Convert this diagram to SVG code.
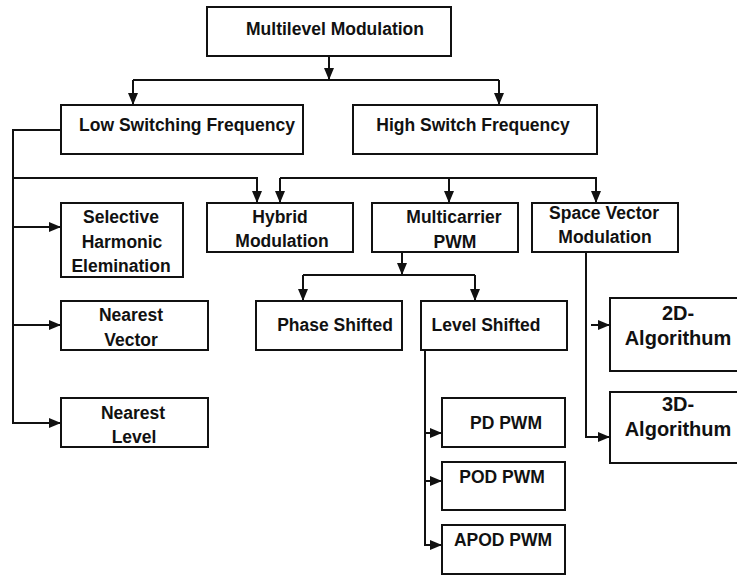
<svg xmlns="http://www.w3.org/2000/svg" width="737" height="576" viewBox="0 0 737 576">
  <style>
    .box { fill: #ffffff; stroke: #111111; stroke-width: 2; }
    .lbl { font-family: "Liberation Sans", Arial, sans-serif; font-weight: bold; font-size: 17.5px; fill: #111111; text-anchor: middle; }
    .big { font-family: "Liberation Sans", Arial, sans-serif; font-weight: bold; font-size: 20px; fill: #111111; text-anchor: middle; }
    .wire { fill: none; stroke: #111111; stroke-width: 2; }
  </style>
  <defs>
    <marker id="arrow" markerUnits="userSpaceOnUse" markerWidth="12" markerHeight="10" viewBox="0 0 12 10" refX="12" refY="5" orient="auto">
      <path d="M0,0 L12,5 L0,10 Z" fill="#111111"/>
    </marker>
  </defs>

  <rect width="737" height="576" fill="#ffffff"/>

  <g id="connectors">
    <!-- root to second level -->
    <path class="wire" d="M329,56 V80" marker-end="url(#arrow)"/>
    <path class="wire" d="M133,80 H499"/>
    <path class="wire" d="M133,80 V105" marker-end="url(#arrow)"/>
    <path class="wire" d="M499,80 V105" marker-end="url(#arrow)"/>
    <!-- low switching frequency branch -->
    <path class="wire" d="M61,130 H13 V423 H61" marker-end="url(#arrow)"/>
    <path class="wire" d="M13,227 H61" marker-end="url(#arrow)"/>
    <path class="wire" d="M13,325 H61" marker-end="url(#arrow)"/>
    <path class="wire" d="M13,178 H257 V203" marker-end="url(#arrow)"/>
    <!-- high switch frequency branch -->
    <path class="wire" d="M280,178 V203" marker-end="url(#arrow)"/>
    <path class="wire" d="M280,178 H596 V203" marker-end="url(#arrow)"/>
    <path class="wire" d="M449,178 V203" marker-end="url(#arrow)"/>
    <!-- multicarrier PWM branch -->
    <path class="wire" d="M402,252 V275" marker-end="url(#arrow)"/>
    <path class="wire" d="M303,275 H475"/>
    <path class="wire" d="M303,275 V301" marker-end="url(#arrow)"/>
    <path class="wire" d="M475,275 V301" marker-end="url(#arrow)"/>
    <!-- level shifted branch -->
    <path class="wire" d="M425,350 V545 H442" marker-end="url(#arrow)"/>
    <path class="wire" d="M425,433 H442" marker-end="url(#arrow)"/>
    <path class="wire" d="M425,481 H442" marker-end="url(#arrow)"/>
    <!-- space vector branch -->
    <path class="wire" d="M586,252 V437 H610" marker-end="url(#arrow)"/>
    <path class="wire" d="M591,325 H610" marker-end="url(#arrow)"/>
  </g>

  <g id="multilevel-modulation">
    <rect class="box" x="207" y="7" width="244" height="49"/>
    <text class="lbl" x="335" y="35">Multilevel Modulation</text>
  </g>

  <g id="low-switching">
    <rect class="box" x="61" y="105" width="242" height="49"/>
    <text class="lbl" x="187" y="131">Low Switching Frequency</text>
  </g>

  <g id="high-switch">
    <rect class="box" x="353" y="105" width="244" height="49"/>
    <text class="lbl" x="473" y="131">High Switch Frequency</text>
  </g>

  <g id="selective-harmonic">
    <rect class="box" x="61" y="203" width="122" height="74"/>
    <text class="lbl" x="121" y="223">Selective</text>
    <text class="lbl" x="122" y="248">Harmonic</text>
    <text class="lbl" x="121" y="272">Elemination</text>
  </g>

  <g id="nearest-vector">
    <rect class="box" x="61" y="301" width="147" height="49"/>
    <text class="lbl" x="131" y="321">Nearest</text>
    <text class="lbl" x="131" y="346">Vector</text>
  </g>

  <g id="nearest-level">
    <rect class="box" x="61" y="398" width="147" height="49"/>
    <text class="lbl" x="133" y="419">Nearest</text>
    <text class="lbl" x="134" y="443">Level</text>
  </g>

  <g id="hybrid">
    <rect class="box" x="207" y="203" width="146" height="49"/>
    <text class="lbl" x="280" y="223">Hybrid</text>
    <text class="lbl" x="282" y="247">Modulation</text>
  </g>

  <g id="multicarrier">
    <rect class="box" x="372" y="203" width="146" height="49"/>
    <text class="lbl" x="454" y="223">Multicarrier</text>
    <text class="lbl" x="455" y="248">PWM</text>
  </g>

  <g id="space-vector">
    <rect class="box" x="532" y="203" width="146" height="49"/>
    <text class="lbl" x="604" y="219">Space Vector</text>
    <text class="lbl" x="605" y="243">Modulation</text>
  </g>

  <g id="phase-shifted">
    <rect class="box" x="256" y="301" width="146" height="49"/>
    <text class="lbl" x="335" y="331">Phase Shifted</text>
  </g>

  <g id="level-shifted">
    <rect class="box" x="421" y="301" width="146" height="49"/>
    <text class="lbl" x="486" y="331">Level Shifted</text>
  </g>

  <g id="pd-pwm">
    <rect class="box" x="442" y="398" width="123" height="49"/>
    <text class="lbl" x="506" y="429">PD PWM</text>
  </g>

  <g id="pod-pwm">
    <rect class="box" x="442" y="462" width="123" height="48"/>
    <text class="lbl" x="502" y="483">POD PWM</text>
  </g>

  <g id="apod-pwm">
    <rect class="box" x="442" y="525" width="123" height="49"/>
    <text class="lbl" x="503" y="546">APOD PWM</text>
  </g>

  <g id="algorithm-2d">
    <rect class="box" x="610" y="298" width="130" height="73"/>
    <text class="big" x="678" y="320">2D-</text>
    <text class="big" x="678" y="345">Algorithum</text>
  </g>

  <g id="algorithm-3d">
    <rect class="box" x="610" y="392" width="130" height="71"/>
    <text class="big" x="678" y="411">3D-</text>
    <text class="big" x="678" y="436">Algorithum</text>
  </g>
</svg>
